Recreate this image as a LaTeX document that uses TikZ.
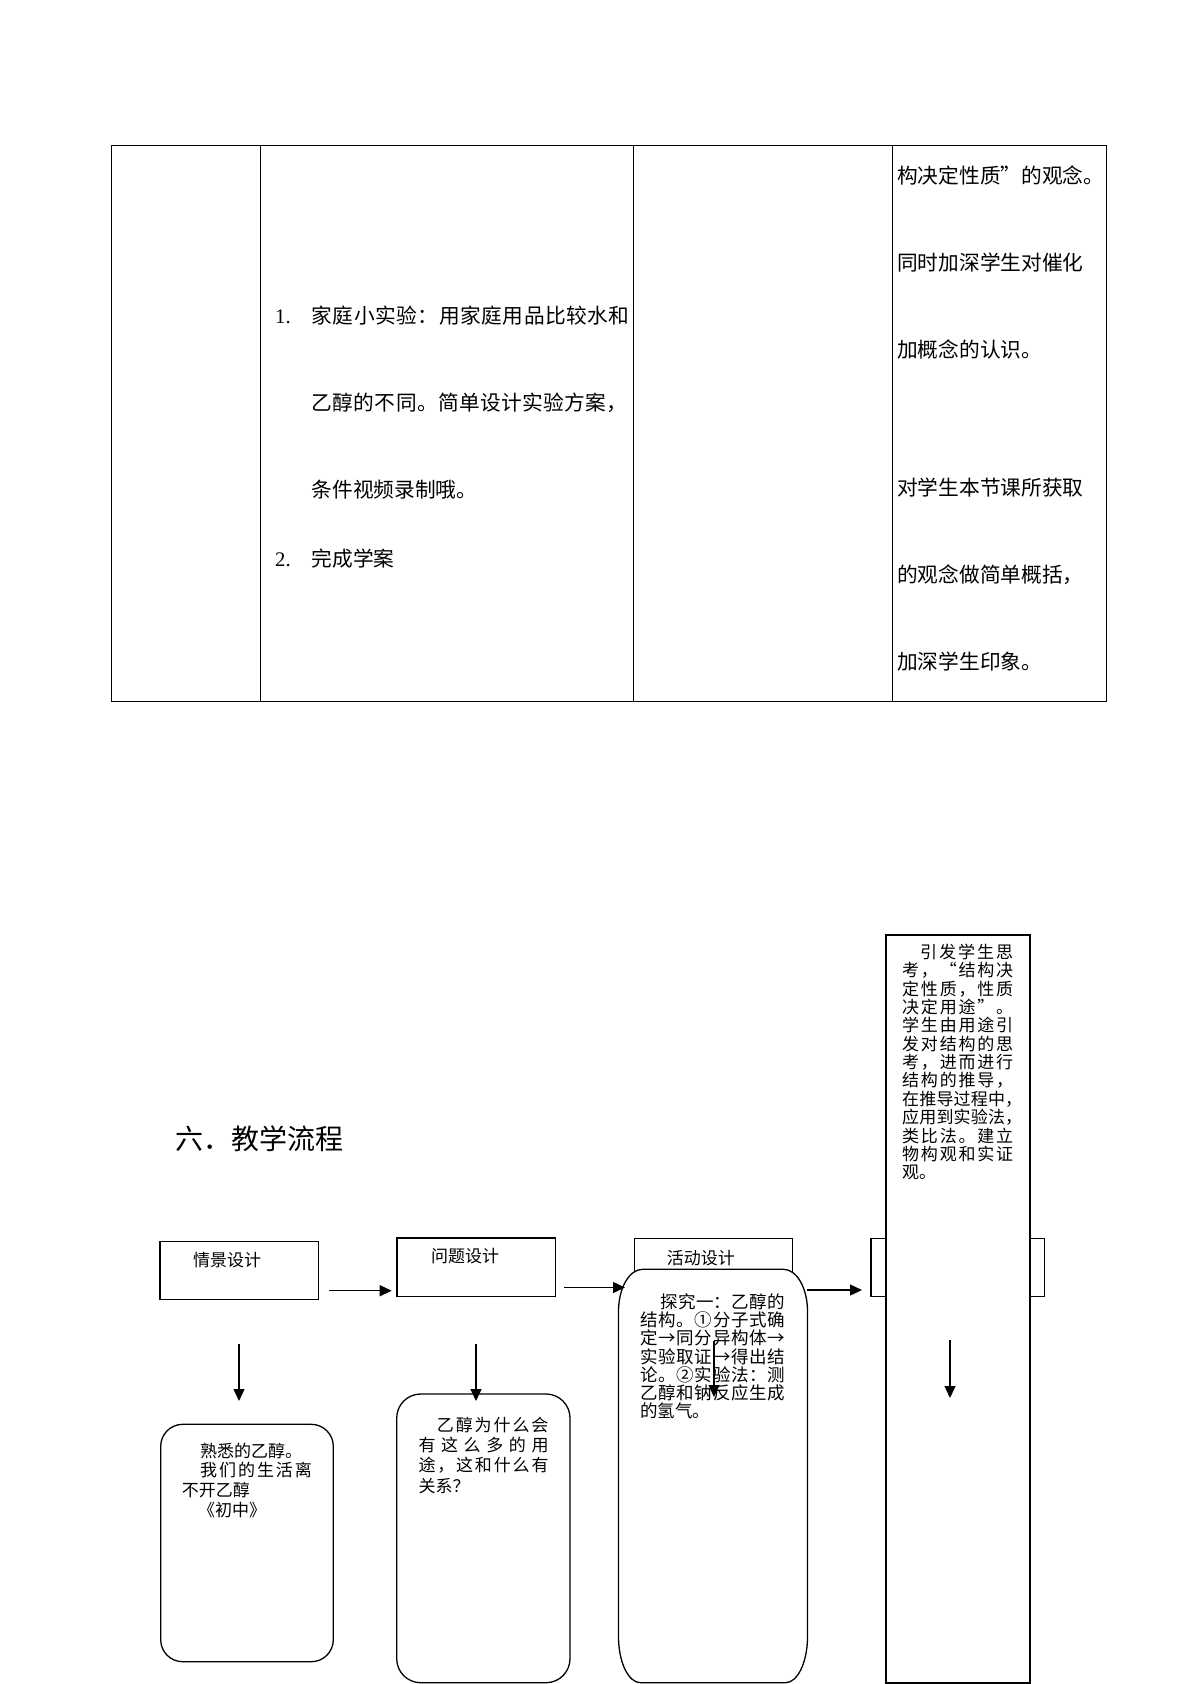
\documentclass[tikz,border=0pt]{standalone}
\usepackage{fontspec}
\setmainfont{Liberation Serif}
\newfontfamily\cjk{Noto Sans CJK SC}
\usetikzlibrary{arrows.meta}
\def\sprfirst#1{#1\sprrest}
\def\sprrest#1{\ifx\relax#1\else\hfil#1\expandafter\sprrest\fi}
\newcommand\spr[2]{\hbox to #1pt{\sprfirst#2\relax}}
\tikzset{
  tline/.style={line width=1pt},
  flowbox/.style={draw, line width=1.3pt, inner sep=0pt, outer sep=0pt, anchor=north west},
  arr/.style={line width=1.3pt, -{Triangle[length=12pt,width=11pt]}},
  tabtext/.style={anchor=base west, inner sep=0pt, font=\cjk\fontsize{20.7}{24}\selectfont},
  tabnum/.style={anchor=base west, inner sep=0pt, font=\fontsize{20.7}{24}\selectfont},
  titletext/.style={anchor=base west, inner sep=0pt, font=\cjk\fontsize{28}{32}\selectfont},
  flowtext/.style={anchor=base west, inner sep=0pt, font=\cjk\fontsize{17}{20}\selectfont},
  flowtextb/.style={anchor=base west, inner sep=0pt, font=\cjk\fontsize{17.5}{20}\selectfont}
}
\begin{document}
\begin{tikzpicture}[x=1pt,y=-1pt]
\useasboundingbox (0,0) rectangle (1191,1684);
\fill[white] (0,0) rectangle (1191,1684);
% ---------- table ----------
\draw[tline] (111.7,145.5) rectangle (1106.5,701.3);
\draw[tline] (260.5,145.5) -- (260.5,701.3);
\draw[tline] (633.5,145.5) -- (633.5,701.3);
\draw[tline] (892.5,145.5) -- (892.5,701.3);
\node[tabnum] (n1) at (275,323.4) {1.};
\node[tabtext] (c2a) at (311.5,323.4) {\spr{318}{家庭小实验：用家庭用品比较水和}};
\node[tabtext] (c2b) at (311.5,410.4) {\spr{316}{乙醇的不同。简单设计实验方案，}};
\node[tabtext] (c2c) at (311.5,497.4) {条件视频录制哦。};
\node[tabnum] (n2) at (275,566.4) {2.};
\node[tabtext] (c2d) at (311.5,566.4) {完成学案};
\node[tabtext] (c4a) at (897,183.4) {构决定性质”的观念。};
\node[tabtext] (c4b) at (897,270.4) {同时加深学生对催化};
\node[tabtext] (c4c) at (897,357.4) {加概念的认识。};
\node[tabtext] (c4d) at (897,495.4) {对学生本节课所获取};
\node[tabtext] (c4e) at (897,582.4) {的观念做简单概括，};
\node[tabtext] (c4f) at (897,669.4) {加深学生印象。};
% ---------- title ----------
\node[titletext] (title) at (175,1149.4) {六．教学流程};
% ---------- header boxes ----------
\node[flowbox, minimum width=158.5pt, minimum height=58pt] (h1) at (160,1241.3) {};
\node[flowbox, minimum width=158.7pt, minimum height=58.7pt] (h2) at (397,1238) {};
\node[flowbox, minimum width=158.4pt, minimum height=58.7pt] (h3) at (634.3,1238.3) {};
\node[flowbox, minimum width=173.3pt, minimum height=58.4pt] (h4) at (871,1238.3) {};
\node[flowtext] (h1t) at (193,1266.1) {情景设计};
\node[flowtext] (h2t) at (431,1262.8) {问题设计};
\node[flowtext] (h3t) at (666.7,1264.4) {活动设计};
% ---------- content boxes ----------
\node[flowbox, rounded corners=22pt, minimum width=172.6pt, minimum height=237.4pt] (r1) at (160.7,1424.3) {};
\node[flowbox, rounded corners=24pt, minimum width=173.3pt, minimum height=288.7pt] (r2) at (396.7,1394) {};
\node[flowbox, draw=none, minimum width=189pt, minimum height=413.4pt] (r3) at (618.5,1269.3) {};
\path[draw, fill=white, line width=1.3pt]
  ([yshift=-42pt]r3.north west) arc[start angle=180,end angle=90,x radius=24pt,y radius=42pt]
  -- ([xshift=-24pt]r3.north east) arc[start angle=90,end angle=0,x radius=24pt,y radius=42pt]
  -- ([yshift=46pt]r3.south east) arc[start angle=0,end angle=-90,x radius=22pt,y radius=46pt]
  -- ([xshift=22pt]r3.south west) arc[start angle=270,end angle=180,x radius=22pt,y radius=46pt]
  -- cycle;
\node[flowbox, fill=white, minimum width=144pt, minimum height=748pt] (r4) at (886,935) {};
% ---------- box texts ----------
\node[flowtext] (r1a) at (200,1457.8) {熟悉的乙醇。};
\node[flowtext] (r1b) at (200,1476.1) {\spr{111.7}{我们的生活离}};
\node[flowtext] (r1c) at (181.7,1496.1) {不开乙醇};
\node[flowtext] (r1d) at (198,1516.1) {《初中》};
\node[flowtext] (r2a) at (436.7,1431.1) {\spr{111.6}{乙醇为什么会}};
\node[flowtext] (r2b) at (418.3,1451.1) {\spr{130}{有这么多的用}};
\node[flowtext] (r2c) at (418.3,1471.1) {\spr{130}{途，这和什么有}};
\node[flowtext] (r2d) at (418.3,1492.1) {关系？};
\node[flowtextb] (r3a) at (660,1308) {\spr{125}{探究一：乙醇的}};
\node[flowtextb] (r3b) at (640,1326.3) {\spr{145}{结构。①分子式确}};
\node[flowtextb] (r3c) at (640,1344.6) {\spr{145}{定→同分异构体→}};
\node[flowtextb] (r3d) at (640,1363) {\spr{145}{实验取证→得出结}};
\node[flowtextb] (r3e) at (640,1381.3) {\spr{145}{论。②实验法：测}};
\node[flowtextb] (r3f) at (640,1399) {\spr{145}{乙醇和钠反应生成}};
\node[flowtextb] (r3g) at (640,1417.3) {的氢气。};
\node[flowtext] (r4a) at (920,958.4) {\spr{93}{引发学生思}};
\node[flowtext] (r4b) at (902,976.8) {\spr{111}{考，“结构决}};
\node[flowtext] (r4c) at (902,995.1) {\spr{111}{定性质，性质}};
\node[flowtext] (r4d) at (902,1013.5) {\spr{111}{决定用途”。}};
\node[flowtext] (r4e) at (902,1031.8) {\spr{111}{学生由用途引}};
\node[flowtext] (r4f) at (902,1050.2) {\spr{111}{发对结构的思}};
\node[flowtext] (r4g) at (902,1068.6) {\spr{111}{考，进而进行}};
\node[flowtext] (r4h) at (902,1086.9) {\spr{111}{结构的推导，}};
\node[flowtext] (r4i) at (902,1105.3) {\spr{120}{在推导过程中，}};
\node[flowtext] (r4j) at (902,1123.6) {\spr{120}{应用到实验法，}};
\node[flowtext] (r4k) at (902,1142.0) {\spr{111}{类比法。建立}};
\node[flowtext] (r4l) at (902,1160.4) {\spr{111}{物构观和实证}};
\node[flowtext] (r4m) at (902,1178.7) {观。};
% ---------- arrows ----------
\coordinate (a1s) at (329,1290.7);   \coordinate (a1e) at (391.7,1290.7);
\coordinate (a2s) at (564.3,1287.5); \coordinate (a2e) at (625,1287.5);
\coordinate (a3s) at (807,1290);     \coordinate (a3e) at (862,1290);
\coordinate (d1s) at (239,1344);     \coordinate (d1e) at (239,1401);
\coordinate (d2s) at (476,1344);     \coordinate (d2e) at (476,1401);
\coordinate (d3s) at (714,1341);     \coordinate (d3e) at (714,1397);
\coordinate (d4s) at (950,1340);     \coordinate (d4e) at (950,1398);
\draw[arr] (a1s) -- (a1e);
\draw[arr] (a2s) -- (a2e);
\draw[arr] (a3s) -- (a3e);
\draw[arr] (d1s) -- (d1e);
\draw[arr] (d2s) -- (d2e);
\draw[arr] (d3s) -- (d3e);
\draw[arr] (d4s) -- (d4e);
\end{tikzpicture}
\end{document}
